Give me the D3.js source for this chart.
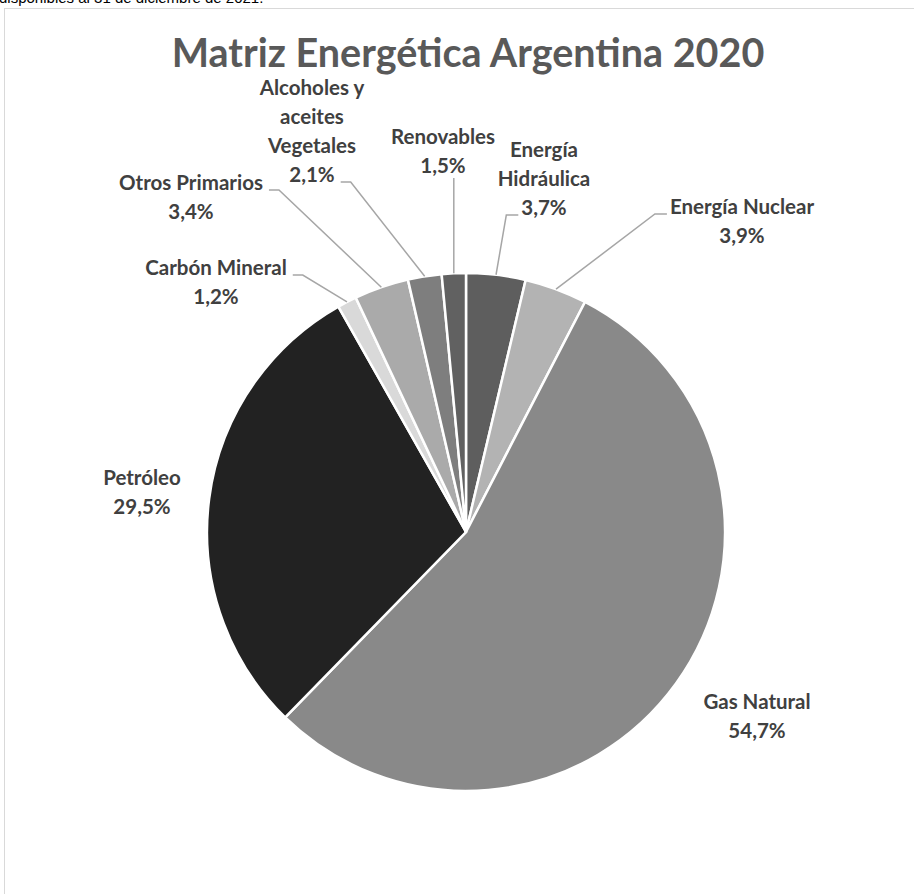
<!DOCTYPE html>
<html>
<head>
<meta charset="utf-8">
<script src="https://cdn.jsdelivr.net/npm/d3@7"></script>
<style>
  html, body { margin: 0; padding: 0; background: #fff; overflow: hidden; }
</style>
</head>
<body>
<div id="chart"></div>
<script>
// Chart data (clockwise from 12 o'clock)
const categories = ["Energía Hidráulica", "Energía Nuclear", "Gas Natural", "Petróleo",
                    "Carbón Mineral", "Otros Primarios", "Alcoholes y aceites Vegetales", "Renovables"];
const values = [3.7, 3.9, 54.7, 29.5, 1.2, 3.4, 2.1, 1.5];
const sliceColors = ["#5e5e5e", "#b3b3b3", "#898989", "#222222", "#d9d9d9", "#aaaaaa", "#7e7e7e", "#616161"];
// how each label's name is broken into lines
const labelLines = [["Energía", "Hidráulica"], ["Energía Nuclear"], ["Gas Natural"], ["Petróleo"],
                    ["Carbón Mineral"], ["Otros Primarios"], ["Alcoholes y", "aceites", "Vegetales"], ["Renovables"]];

const width = 914, height = 894;
const cx = 466, cy = 532, radius = 259;
const lineH = 29;

// label placement (Excel "best fit" result), leader side and line it hooks to
const labelLayout = [
    { x: 544, y: 150, side: "left", line: 2 },
    { x: 742, y: 207, side: "left", line: 0 },
    { x: 757, y: 702, side: null },
    { x: 142, y: 478, side: null },
    { x: 216, y: 268, side: "right", line: 0 },
    { x: 191, y: 183, side: "right", line: 0 },
    { x: 312, y: 88, side: "right", line: 3 },
    { x: 443, y: 137, side: "below", line: 1 }
];

const fmt = v => d3.format(".1f")(v).replace(".", ",") + "%";

const svg = d3.select("#chart").append("svg")
    .attr("width", width)
    .attr("height", height);

// clipped source note above the chart frame
svg.append("text")
    .attr("x", -1)
    .attr("y", 3)
    .style("font-family", "Liberation Sans, Arial, sans-serif")
    .style("font-size", "15px")
    .style("fill", "#000")
    .text("disponibles al 31 de diciembre de 2021.");

// chart frame
svg.append("rect")
    .attr("x", 4.5)
    .attr("y", 8.5)
    .attr("width", 1000)
    .attr("height", 1000)
    .style("fill", "#fff")
    .style("stroke", "#d9d9d9")
    .style("stroke-width", 1);

// title
svg.append("text")
    .attr("x", 468)
    .attr("y", 67)
    .attr("text-anchor", "middle")
    .style("font-family", "Lato, sans-serif")
    .style("font-weight", "700")
    .style("font-size", "39.5px")
    .style("fill", "#595959")
    .text("Matriz Energética Argentina 2020");

const pie = d3.pie().sort(null).value(d => d)(values);
const arc = d3.arc().innerRadius(0).outerRadius(radius);

const g = svg.append("g").attr("transform", `translate(${cx},${cy})`);

g.selectAll("path.slice")
    .data(pie)
    .join("path")
    .attr("class", "slice")
    .attr("d", arc)
    .style("fill", (d, i) => sliceColors[i])
    .style("stroke", "#fff")
    .style("stroke-width", "2.5px");

// data labels
const labels = svg.append("g");
const leaders = svg.append("g");

pie.forEach((d, i) => {
    const lay = labelLayout[i];
    const lines = labelLines[i].concat([fmt(values[i])]);
    const t = labels.append("text")
        .attr("text-anchor", "middle")
        .style("font-family", "Lato, sans-serif")
        .style("font-weight", "700")
        .style("font-size", "20.5px")
        .style("fill", "#404040");
    const spans = lines.map((s, k) => t.append("tspan")
        .attr("x", lay.x)
        .attr("y", lay.y + k * lineH)
        .attr("dy", "0.35em")
        .text(s));

    if (!lay.side) return;

    // point on the slice edge at its mid angle
    const mid = (d.startAngle + d.endAngle) / 2;
    const px = cx + Math.sin(mid) * radius;
    const py = cy - Math.cos(mid) * radius;

    const span = spans[Math.min(lay.line, spans.length - 1)];
    const w = span.node().getComputedTextLength();
    const ly = lay.y + lay.line * lineH + 7;
    let pts;
    if (lay.side === "right") {
        const x0 = lay.x + w / 2 + 6;
        pts = [[x0, ly], [x0 + 10, ly], [px, py]];
    } else if (lay.side === "left") {
        const x0 = lay.x - w / 2 - 3;
        pts = [[x0, ly], [x0 - 12, ly], [px, py]];
    } else {
        pts = [[px, ly + 5], [px, py]];
    }
    leaders.append("path")
        .attr("d", d3.line()(pts))
        .style("fill", "none")
        .style("stroke", "#a6a6a6")
        .style("stroke-width", "1.5px");
});
</script>
</body>
</html>
